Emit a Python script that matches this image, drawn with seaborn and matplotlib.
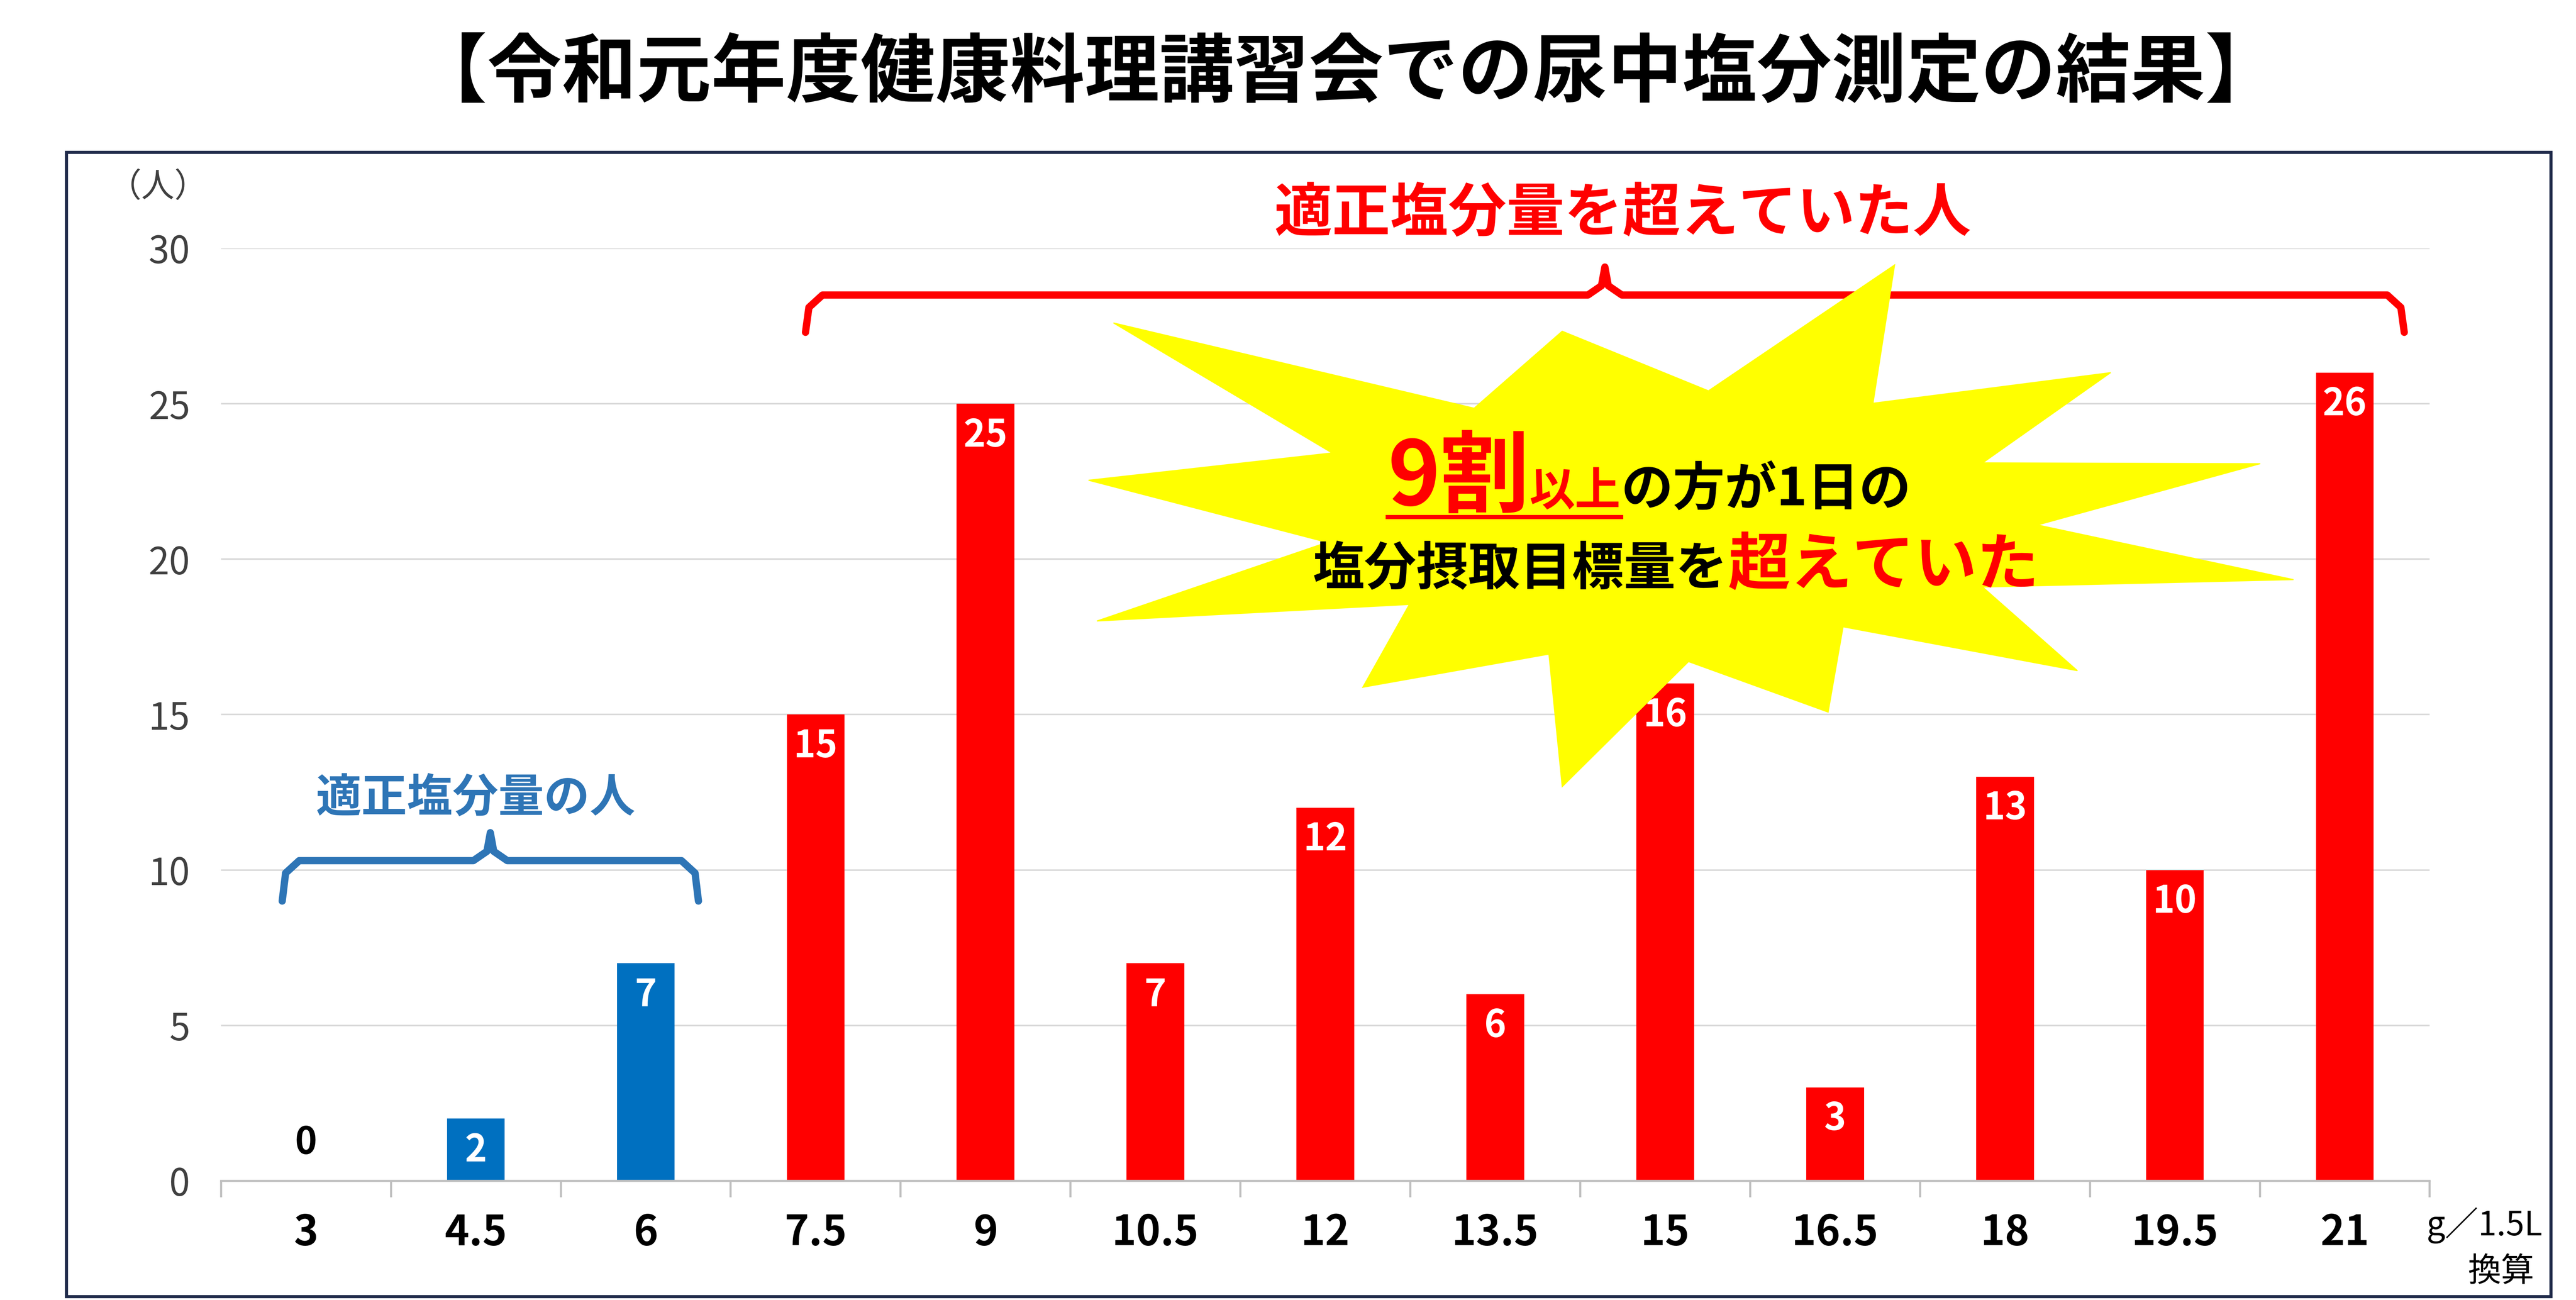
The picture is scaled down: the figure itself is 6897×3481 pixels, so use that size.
import matplotlib
matplotlib.use("Agg")
import matplotlib.pyplot as plt
import seaborn as sns
import pandas as pd
import numpy as np
from matplotlib.patches import Polygon, Rectangle, FancyBboxPatch

categories = ["3", "4.5", "6", "7.5", "9", "10.5", "12", "13.5", "15", "16.5", "18", "19.5", "21"]
counts = [0, 2, 7, 15, 25, 7, 12, 6, 16, 3, 13, 10, 26]
groups = ["適正"] * 3 + ["超過"] * 10
palette = {"適正": "#0070C0", "超過": "#FF0000"}

FONT = "Noto Sans CJK JP"
plt.rcParams["font.family"] = FONT

fig = plt.figure(figsize=(34.485, 17.405), dpi=200)
W, H = 1550.0, 785.0
def F(x, y):
    return (x / W, 1 - y / H)

ax = fig.add_axes([133 / W, 1 - 713 / H, (1462 - 133) / W, (713 - 150) / H])
df = pd.DataFrame({"cat": categories, "n": counts, "g": groups})
sns.barplot(data=df, x="cat", y="n", hue="g", palette=palette, width=0.34,
            dodge=False, legend=False, ax=ax, saturation=1)
ax.set_ylim(0, 30)
ax.set_xlim(-0.5, 12.5)
ax.set_yticks([0, 5, 10, 15, 20, 25, 30])
ax.grid(axis="y", color="#D9D9D9", lw=1.5)
ax.set_axisbelow(True)
for s in ["top", "right", "left"]:
    ax.spines[s].set_visible(False)
ax.spines["bottom"].set_color("#BFBFBF")
ax.spines["bottom"].set_linewidth(2)
ax.set_xlabel(""); ax.set_ylabel("")
ax.tick_params(axis="y", length=0, labelsize=36, labelcolor="#404040", pad=30)
ax.tick_params(axis="x", length=0, labelsize=40, pad=30)
for t in ax.get_xticklabels():
    t.set_fontweight("bold")
ax.set_xticks(np.arange(-0.5, 13, 1), minor=True)
ax.tick_params(axis="x", which="minor", length=16, width=2, color="#BFBFBF")

for i, v in enumerate(counts):
    if v == 0:
        ax.text(i, 0.6, "0", ha="center", va="bottom", fontsize=36, fontweight="bold", color="black")
    else:
        ax.text(i, v - 0.4, str(v), ha="center", va="top", fontsize=36, fontweight="bold", color="white")

# braces
def brace(x0, x1, y, yd, yt, color):
    xm = (x0 + x1) / 2
    xs = [x0, x0 + 0.02, x0 + 0.1, xm - 0.1, xm - 0.02, xm, xm + 0.02, xm + 0.1, x1 - 0.1, x1 - 0.02, x1]
    ys = [yd, y - 0.4, y, y, y + 0.3, yt, y + 0.3, y, y, y - 0.4, yd]
    ax.plot(xs, ys, color=color, lw=7, clip_on=False,
            solid_joinstyle="round", solid_capstyle="round")
brace(-0.14, 2.31, 10.3, 9.0, 11.2, "#2E75B6")
ax.text(1.0, 12.3, "適正塩分量の人", ha="center", va="center", fontsize=44,
        fontweight="bold", color="#2E75B6")
brace(2.94, 12.35, 28.5, 27.3, 29.4, "#FF0000")
ax.text(7.75, 31.1, "適正塩分量を超えていた人", ha="center", va="center", fontsize=56,
        fontweight="bold", color="#FF0000", clip_on=False)

# starburst
outer = [(670,195),(940,200),(1140,160),(1270,225),(1360,280),(1380,350),
         (1250,405),(1100,430),(940,475),(820,415),(660,375),(655,290)]
c = np.array([1010, 320])
pts = []
for k in range(len(outer)):
    a = np.array(outer[k]); b = np.array(outer[(k + 1) % len(outer)])
    m = (a + b) / 2
    inner = c + (m - c) * 0.6
    pts.append(F(*a)); pts.append(F(*inner))
fig.patches.append(Polygon(pts, closed=True, transform=fig.transFigure,
                           facecolor="#FFFF00", edgecolor="#FFFF00", zorder=5))

renderer = fig.canvas.get_renderer()
def chain(x, y, parts):
    fx, fy = F(x, y)
    ends = []
    for s, size, color in parts:
        t = fig.text(fx, fy, s, fontsize=size, color=color, fontweight="bold",
                     ha="left", va="baseline", zorder=6)
        bb = t.get_window_extent(renderer).transformed(fig.transFigure.inverted())
        ends.append((fx, bb.x1))
        fx = bb.x1
    return ends
e1 = chain(835, 305, [("9割", 86, "#FF0000"), ("以上", 44, "#FF0000"), ("の方が1日の", 50, "black")])
fig.lines.append(plt.Line2D([e1[0][0], e1[1][1]], [1 - 312 / H] * 2, transform=fig.transFigure,
                            color="#FF0000", lw=4, zorder=6))
chain(790, 353, [("塩分摂取目標量を", 50, "black"), ("超えていた", 60, "#FF0000")])

# texts
fig.text(*F(810, 45), "【令和元年度健康料理講習会での尿中塩分測定の結果】", ha="center", va="center",
         fontsize=72, fontweight="bold", color="black")
fig.text(*F(95, 113), "（人）", ha="center", va="center", fontsize=32, color="#404040")
fig.text(*F(1495, 740), "g／1.5L", ha="center", va="center", fontsize=32, color="black")
fig.text(*F(1505, 768), "換算", ha="center", va="center", fontsize=32, color="black")

fig.patches.append(Rectangle(F(40, 783), (1535 - 40) / W, (783 - 92) / H, transform=fig.transFigure,
                             fill=False, edgecolor="#1F2A4A", lw=3))

fig.savefig("out.png", dpi=200, facecolor="white")
